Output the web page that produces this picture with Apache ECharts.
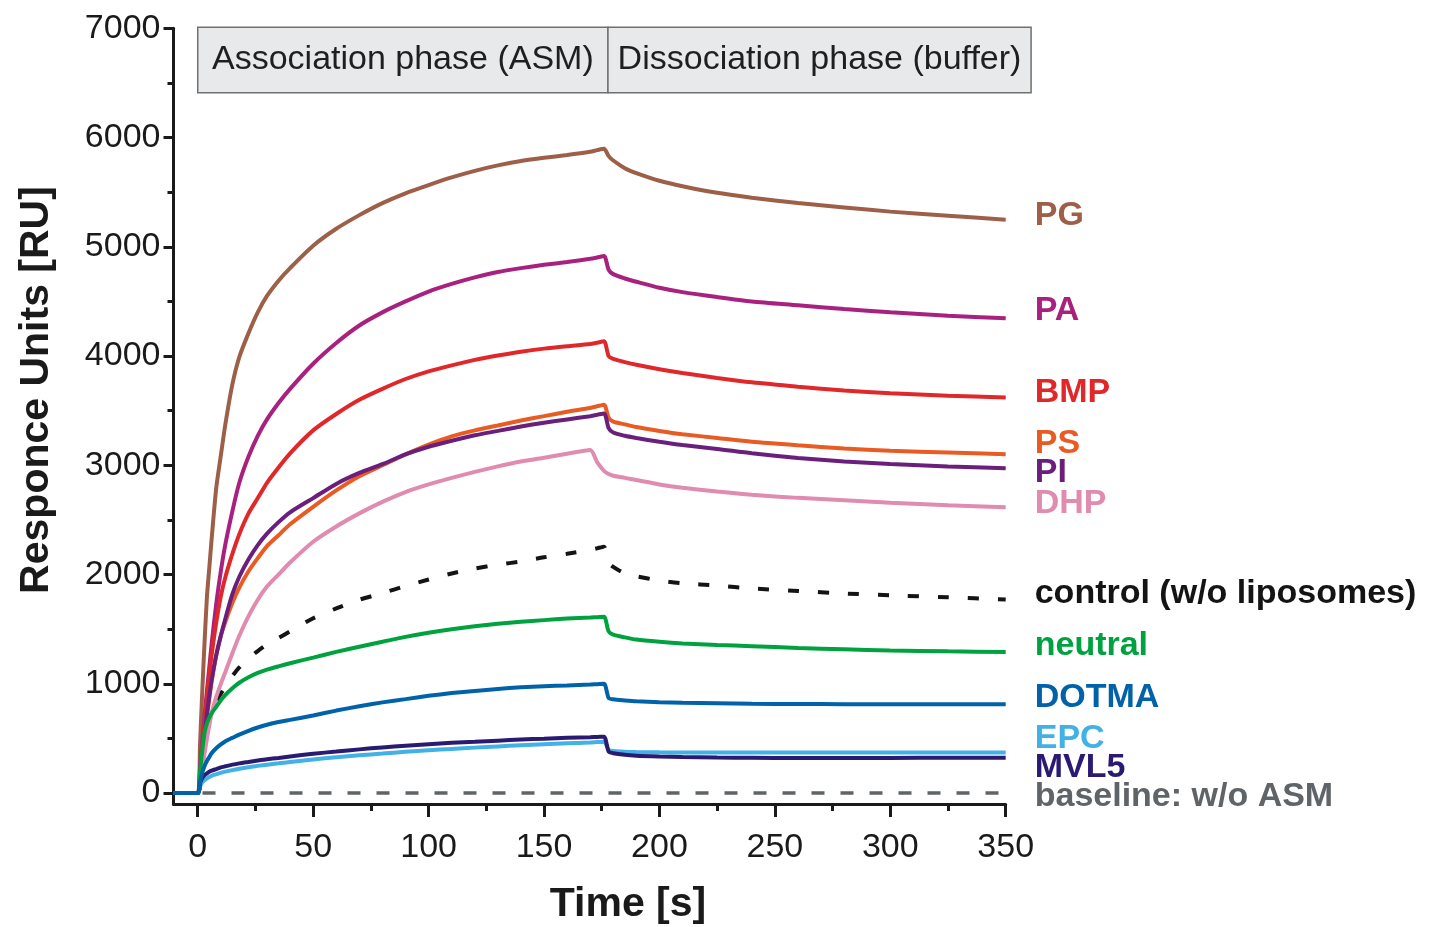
<!DOCTYPE html>
<html>
<head>
<meta charset="utf-8">
<script src="https://cdn.jsdelivr.net/npm/echarts@6/dist/echarts.min.js"></script>
<style>
  html, body { margin: 0; padding: 0; background: #ffffff; }
  #chart { width: 1429px; height: 927px; }
</style>
</head>
<body>
<div id="chart"></div>
<script>
// Sensorgram: response units over time during association (ASM) and dissociation (buffer)
const time = [-10.5, 0, 1, 2, 3, 4, 5, 6, 8, 10, 12, 15, 18, 22, 26, 30, 35, 40, 50, 60, 70, 80, 90, 100, 110, 120, 130, 140, 150, 160, 170, 173, 176, 178, 180, 185, 190, 200, 210, 225, 240, 260, 280, 300, 325, 350];

const PG      = [0, 0, 450, 950, 1400, 1800, 2060, 2320, 2790, 3090, 3380, 3740, 3990, 4210, 4400, 4550, 4690, 4805, 5010, 5165, 5290, 5400, 5490, 5565, 5635, 5695, 5745, 5785, 5815, 5840, 5870, 5885, 5898, 5830, 5790, 5720, 5675, 5605, 5555, 5495, 5450, 5400, 5360, 5322, 5285, 5248];
const PA      = [0, 0, 230, 480, 720, 940, 1150, 1360, 1730, 2030, 2280, 2580, 2840, 3080, 3270, 3420, 3570, 3700, 3930, 4120, 4280, 4400, 4500, 4590, 4660, 4720, 4770, 4805, 4835, 4860, 4890, 4902, 4915, 4790, 4750, 4710, 4680, 4625, 4585, 4540, 4500, 4465, 4430, 4400, 4370, 4345];
const BMP     = [0, 0, 200, 420, 650, 870, 1080, 1260, 1560, 1800, 1980, 2190, 2370, 2560, 2700, 2840, 2980, 3110, 3320, 3470, 3600, 3700, 3790, 3860, 3915, 3965, 4005, 4040, 4068, 4090, 4110, 4122, 4135, 4000, 3975, 3945, 3920, 3880, 3845, 3800, 3760, 3720, 3685, 3660, 3637, 3620];
const PS      = [0, 0, 150, 330, 520, 700, 860, 1020, 1260, 1440, 1570, 1740, 1880, 2030, 2150, 2260, 2360, 2460, 2620, 2770, 2900, 3000, 3100, 3190, 3265, 3320, 3365, 3410, 3450, 3490, 3525, 3540, 3555, 3435, 3400, 3375, 3350, 3315, 3285, 3250, 3215, 3183, 3155, 3133, 3117, 3102];
const PI      = [0, 0, 150, 340, 540, 730, 890, 1030, 1260, 1440, 1600, 1820, 1980, 2140, 2270, 2375, 2480, 2570, 2700, 2830, 2930, 3010, 3100, 3170, 3225, 3275, 3315, 3355, 3390, 3420, 3450, 3462, 3475, 3340, 3300, 3270, 3250, 3215, 3185, 3150, 3110, 3068, 3035, 3012, 2990, 2972];
const DHP     = [0, 0, 100, 230, 370, 500, 620, 730, 880, 1000, 1110, 1280, 1440, 1620, 1770, 1890, 2000, 2110, 2300, 2440, 2560, 2665, 2755, 2825, 2885, 2940, 2990, 3035, 3070, 3105, 3140, 3030, 2950, 2920, 2905, 2885, 2865, 2825, 2795, 2760, 2730, 2702, 2680, 2658, 2635, 2616];
const control = [0, 0, 150, 300, 430, 550, 650, 730, 840, 910, 980, 1070, 1150, 1230, 1300, 1360, 1420, 1480, 1600, 1690, 1770, 1830, 1895, 1955, 2010, 2055, 2090, 2120, 2158, 2190, 2225, 2240, 2255, 2110, 2070, 2010, 1985, 1945, 1920, 1900, 1873, 1850, 1827, 1810, 1792, 1772];
const neutral = [0, 0, 200, 400, 560, 640, 690, 730, 790, 850, 900, 960, 1010, 1060, 1100, 1130, 1160, 1188, 1240, 1292, 1340, 1385, 1430, 1468, 1500, 1527, 1550, 1568, 1583, 1597, 1606, 1610, 1613, 1480, 1450, 1425, 1405, 1385, 1370, 1355, 1345, 1328, 1316, 1305, 1297, 1291];
const DOTMA   = [0, 0, 100, 190, 250, 295, 330, 365, 410, 445, 475, 505, 535, 570, 600, 625, 650, 670, 710, 755, 795, 830, 860, 890, 915, 935, 953, 968, 978, 985, 993, 997, 1000, 870, 858, 848, 840, 832, 826, 822, 818, 815, 814, 814, 813, 813];
const EPC     = [0, 0, 60, 100, 120, 135, 148, 158, 172, 185, 196, 210, 222, 236, 249, 260, 272, 285, 308, 328, 346, 362, 378, 392, 404, 416, 427, 437, 446, 455, 463, 467, 470, 395, 385, 378, 375, 373, 372, 371, 371, 371, 371, 371, 371, 371];
const MVL5    = [0, 0, 90, 140, 165, 180, 195, 205, 220, 235, 245, 260, 272, 285, 298, 310, 322, 335, 360, 380, 400, 418, 433, 447, 460, 470, 480, 490, 498, 506, 512, 514, 515, 380, 365, 350, 342, 335, 330, 326, 323, 320, 320, 322, 323, 324];

const baselineTime = [-10.5, 350];
const baselineValues = [0, 0];

const xTicks = [0, 50, 100, 150, 200, 250, 300, 350];
const xMinorTicks = [25, 75, 125, 175, 225, 275, 325];
const yTicks = [0, 1000, 2000, 3000, 4000, 5000, 6000, 7000];
const yMinorTicks = [500, 1500, 2500, 3500, 4500, 5500, 6500];

const phaseLabels = ['Association phase (ASM)', 'Dissociation phase (buffer)'];
const phaseTimes = [0, 177.7, 361];      // injection start, switch to buffer, end of banner
const phaseBand = [6410, 7010];          // vertical extent of the phase banner

const FONT = '"Liberation Sans", Arial, Helvetica, sans-serif';
const INK = '#1a1a1a';

// per-curve appearance: colour and small vertical nudge of the end label
const curves = [
  { name: 'control (w/o liposomes)', values: control, color: '#141414', dy: -6, dashed: true },
  { name: 'PG',      values: PG,      color: '#9e5f48', dy: -4 },
  { name: 'PA',      values: PA,      color: '#a8217f', dy: -8 },
  { name: 'BMP',     values: BMP,     color: '#e0282a', dy: -5 },
  { name: 'PS',      values: PS,      color: '#e85c24', dy: -11 },
  { name: 'PI',      values: PI,      color: '#6a1f7c', dy: 4 },
  { name: 'DHP',     values: DHP,     color: '#e08bb0', dy: -4 },
  { name: 'neutral', values: neutral, color: '#00a240', dy: -6 },
  { name: 'EPC',     values: EPC,     color: '#41b1e6', dy: -14 },
  { name: 'MVL5',    values: MVL5,    color: '#2a1a72', dy: 10 },
  { name: 'DOTMA',   values: DOTMA,   color: '#0063a9', dy: -7 }
];

function endLabel(text, color, dy) {
  return {
    show: true,
    formatter: () => text,
    color: color,
    fontFamily: FONT,
    fontSize: 34,
    fontWeight: 'bold',
    distance: 29,
    offset: [0, dy]
  };
}

const series = [{
  type: 'line',
  name: 'baseline',
  data: baselineTime.map((t, i) => [t, baselineValues[i]]),
  symbol: 'none',
  lineStyle: { color: '#5f6467', width: 3.5, type: [13, 16] },
  endLabel: endLabel('baseline: w/o ASM', '#5f6468', 4),
  silent: true,
  z: 1
}];

curves.forEach(c => {
  series.push({
    type: 'line',
    name: c.name,
    data: time.map((t, i) => [t, c.values[i]]),
    symbol: 'none',
    smooth: 0.25,
    lineStyle: c.dashed
      ? { color: c.color, width: 4, type: [11, 19] }
      : { color: c.color, width: 4 },
    itemStyle: { color: c.color },
    endLabel: endLabel(c.name, c.color, c.dy),
    silent: true,
    z: 2
  });
});

const tickLabelStyle = { color: INK, fontFamily: FONT, fontSize: 34, formatter: v => String(v) };

const option = {
  animation: false,
  backgroundColor: '#ffffff',
  grid: { left: 173.5, right: 423.3, top: 28.3, bottom: 123 },
  xAxis: [{
    type: 'value', min: -10.5, max: 350, position: 'bottom',
    splitLine: { show: false },
    axisLine: { show: true, onZero: false, lineStyle: { color: INK, width: 3 } },
    axisTick: { show: true, customValues: xTicks, length: 13, lineStyle: { color: INK, width: 3 } },
    axisLabel: Object.assign({ show: true, customValues: xTicks, margin: 27 }, tickLabelStyle)
  }, {
    type: 'value', min: -10.5, max: 350, position: 'bottom',
    splitLine: { show: false },
    axisLine: { show: false, onZero: false },
    axisTick: { show: true, customValues: xMinorTicks, length: 7, lineStyle: { color: INK, width: 3 } },
    axisLabel: { show: false }
  }],
  yAxis: [{
    type: 'value', min: -100, max: 7000, position: 'left',
    splitLine: { show: false },
    axisLine: { show: true, onZero: false, lineStyle: { color: INK, width: 3 } },
    axisTick: { show: true, customValues: yTicks, length: 10, lineStyle: { color: INK, width: 3 } },
    axisLabel: Object.assign({ show: true, customValues: yTicks, margin: 13 }, tickLabelStyle)
  }, {
    type: 'value', min: -100, max: 7000, position: 'left',
    splitLine: { show: false },
    axisLine: { show: false, onZero: false },
    axisTick: { show: true, customValues: yMinorTicks, length: 6, lineStyle: { color: INK, width: 3 } },
    axisLabel: { show: false }
  }],
  series: series
};

const chart = echarts.init(document.getElementById('chart'), null, { renderer: 'canvas' });
chart.setOption(option);

// phase banner above the curves, placed in data coordinates
const topLeft = chart.convertToPixel({ gridIndex: 0 }, [phaseTimes[0], phaseBand[1]]);
const mid = chart.convertToPixel({ gridIndex: 0 }, [phaseTimes[1], phaseBand[0]]);
const bottomRight = chart.convertToPixel({ gridIndex: 0 }, [phaseTimes[2], phaseBand[0]]);

const boxStyle = { fill: '#e8e9eb', stroke: '#707070', lineWidth: 1.5 };
const boxText = { fill: '#1f1f1f', font: '34px ' + FONT, textAlign: 'center', textVerticalAlign: 'middle' };
const bannerMidY = (topLeft[1] + bottomRight[1]) / 2;

chart.setOption({
  graphic: [
    { type: 'rect', shape: { x: topLeft[0], y: topLeft[1], width: mid[0] - topLeft[0], height: bottomRight[1] - topLeft[1] }, style: boxStyle, z: 10 },
    { type: 'rect', shape: { x: mid[0], y: topLeft[1], width: bottomRight[0] - mid[0], height: bottomRight[1] - topLeft[1] }, style: boxStyle, z: 10 },
    { type: 'text', x: (topLeft[0] + mid[0]) / 2, y: bannerMidY, style: Object.assign({ text: phaseLabels[0] }, boxText), z: 11 },
    { type: 'text', x: (mid[0] + bottomRight[0]) / 2, y: bannerMidY, style: Object.assign({ text: phaseLabels[1] }, boxText), z: 11 },
    { type: 'text', x: 37, y: 390, rotation: Math.PI / 2,
      style: { text: 'Responce Units [RU]', fill: INK, font: 'bold 41px ' + FONT, textAlign: 'center', textVerticalAlign: 'middle' }, z: 11 },
    { type: 'text', x: 628, y: 905,
      style: { text: 'Time [s]', fill: INK, font: 'bold 41px ' + FONT, textAlign: 'center', textVerticalAlign: 'middle' }, z: 11 }
  ]
});
</script>
</body>
</html>
